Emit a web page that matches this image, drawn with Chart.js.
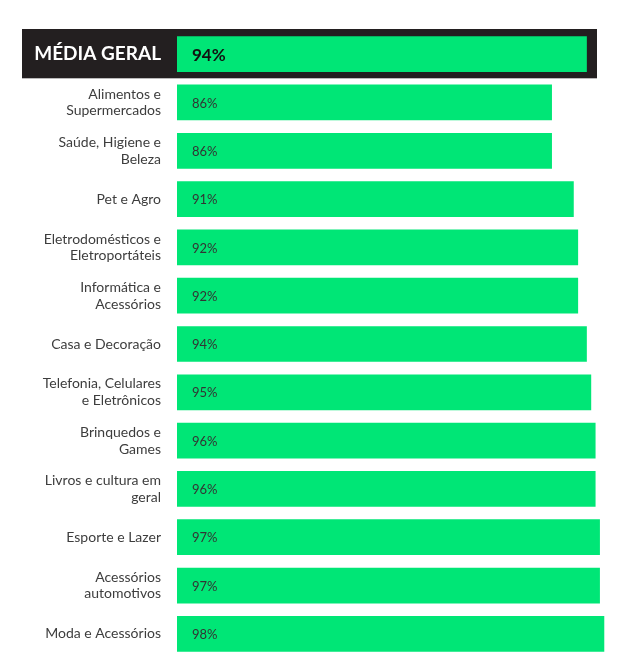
<!DOCTYPE html>
<html>
<head>
<meta charset="utf-8">
<script src="https://cdn.jsdelivr.net/npm/chart.js@4/dist/chart.umd.min.js"></script>
<style>
  html, body { margin: 0; padding: 0; background: #fff; }
  #wrap { width: 642px; height: 671px; }
</style>
</head>
<body>
<div id="wrap"><canvas id="satisfacaoChart"></canvas></div>
<script>
// categorias (linhas quebradas como no original)
const categories = [
    'MÉDIA GERAL',
    ['Alimentos e', 'Supermercados'],
    ['Saúde, Higiene e', 'Beleza'],
    'Pet e Agro',
    ['Eletrodomésticos e', 'Eletroportáteis'],
    ['Informática e', 'Acessórios'],
    'Casa e Decoração',
    ['Telefonia, Celulares', 'e Eletrônicos'],
    ['Brinquedos e', 'Games'],
    ['Livros e cultura em', 'geral'],
    'Esporte e Lazer',
    ['Acessórios', 'automotivos'],
    'Moda e Acessórios'
];
const values = [94, 86, 86, 91, 92, 92, 94, 95, 96, 96, 97, 97, 98];

const GREEN = '#00e676';
const DARK = '#231f20';

// faixa escura atrás da primeira linha (média geral)
const highlightRow = {
    id: 'highlightRow',
    beforeDraw(chart) {
        const y = chart.scales.y;
        const step = y.getPixelForValue(1) - y.getPixelForValue(0);
        const top = y.getPixelForValue(0) - step / 2;
        const ctx = chart.ctx;
        ctx.save();
        ctx.fillStyle = DARK;
        ctx.fillRect(22, top - 1, 575, step + 1);
        ctx.restore();
    }
};

// rótulos de porcentagem dentro das barras
const valueLabels = {
    id: 'valueLabels',
    afterDatasetsDraw(chart) {
        const ctx = chart.ctx;
        const meta = chart.getDatasetMeta(0);
        ctx.save();
        ctx.textBaseline = 'middle';
        ctx.textAlign = 'left';
        meta.data.forEach(function(bar, i) {
            if (i === 0) {
                ctx.font = 'bold 17px Lato';
                ctx.fillStyle = '#111';
            } else {
                ctx.font = '13px Lato';
                ctx.fillStyle = '#333';
            }
            ctx.fillText(values[i] + '%', bar.base + 15, bar.y + 1);
        });
        ctx.restore();
    }
};

document.addEventListener('DOMContentLoaded', function() {
    const ctx = document.getElementById('satisfacaoChart').getContext('2d');
    new Chart(ctx, {
        type: 'bar',
        data: {
            labels: categories,
            datasets: [{
                data: values,
                backgroundColor: GREEN,
                borderWidth: 0,
                categoryPercentage: 1,
                barPercentage: 0.74
            }]
        },
        options: {
            indexAxis: 'y',
            responsive: true,
            maintainAspectRatio: false,
            animation: false,
            layout: {
                padding: { top: 30, bottom: 13, left: 0, right: 29 }
            },
            plugins: {
                legend: { display: false },
                tooltip: { enabled: false }
            },
            scales: {
                x: {
                    display: false,
                    min: 0,
                    max: 100
                },
                y: {
                    afterFit: function(scale) {
                        scale.width = 177;
                        scale.paddingTop = 0;
                        scale.paddingBottom = 0;
                    },
                    grid: { display: false, drawTicks: false },
                    border: { display: false },
                    ticks: {
                        padding: 16,
                        color: function(c) { return c.index === 0 ? '#ffffff' : '#3d3d3d'; },
                        font: function(c) {
                            return c.index === 0
                                ? { family: 'Lato', size: 19, weight: 'bold', lineHeight: 1.2 }
                                : { family: 'Lato', size: 14, lineHeight: 1.2 };
                        }
                    }
                }
            }
        },
        plugins: [highlightRow, valueLabels]
    });
});
</script>
</body>
</html>
